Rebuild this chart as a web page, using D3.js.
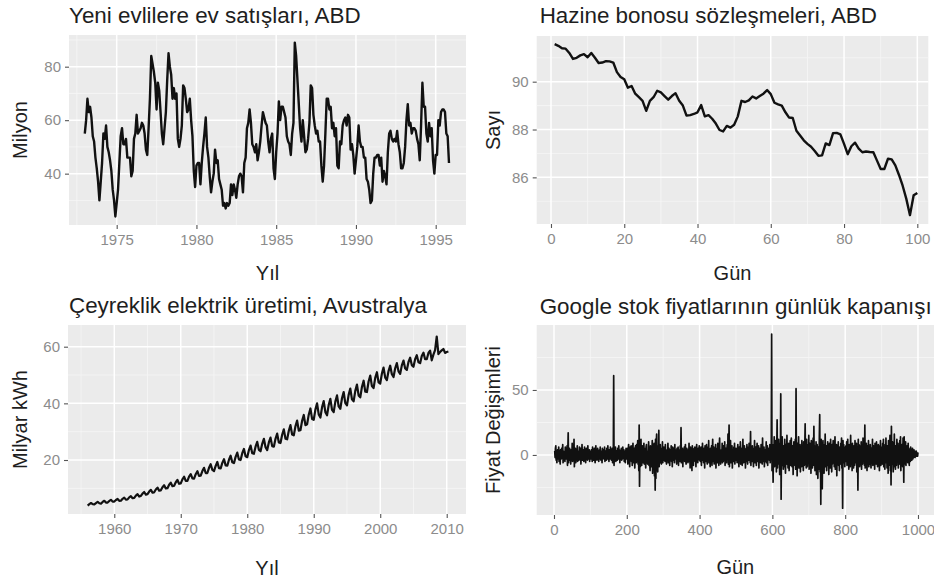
<!DOCTYPE html>
<html>
<head>
<meta charset="utf-8">
<script src="https://cdn.jsdelivr.net/npm/d3@7"></script>
<style>
  html, body { margin: 0; padding: 0; background: #ffffff; }
  svg { display: block; font-family: "Liberation Sans", Arial, Helvetica, sans-serif; }
</style>
</head>
<body>
<svg id="chart" width="934" height="583"></svg>
<script>
// ---------------- DATA ----------------
// Panel 1: monthly new house sales, USA (Jan 1973 - Nov 1995)
const hsalesStartYear = 1973;
const hsalesValues = [
  55,60,68,63,65,61,54,52,46,42,37,30,
  37,44,55,53,58,50,48,45,41,34,30,24,
  29,34,44,54,57,51,51,53,46,46,46,39,
  41,53,55,62,55,56,57,59,58,55,49,47,
  57,68,84,81,78,74,64,74,71,63,55,51,
  57,63,75,85,80,77,68,72,68,70,53,50,
  53,58,73,72,68,63,64,68,60,54,41,35,
  43,44,44,36,44,50,55,61,50,46,39,33,
  37,40,49,44,45,38,36,34,28,29,27,29,
  28,29,36,32,36,34,31,36,39,40,39,33,
  44,46,57,59,64,59,51,50,48,51,45,48,
  52,58,63,61,59,58,52,48,53,55,42,38,
  48,55,67,60,65,65,63,61,54,52,51,47,
  55,59,89,84,75,66,57,52,60,54,48,49,
  53,59,73,72,62,58,55,56,52,52,43,37,
  43,55,68,68,64,65,57,59,54,57,43,42,
  52,51,58,60,61,58,62,61,49,51,47,40,
  45,50,58,52,50,50,46,46,38,37,34,29,
  30,40,46,46,47,47,43,46,37,41,39,36,
  48,55,56,53,52,53,52,56,51,48,42,42,
  44,50,60,66,58,59,55,57,57,56,53,51,
  45,58,74,65,65,55,52,59,54,57,45,40,
  47,47,60,58,63,64,64,63,55,54,44
];

// Panel 2: US treasury bill contracts, 100 days
const ustreasValues = [
  91.57,91.50,91.40,91.38,91.20,90.95,91.00,91.10,91.15,91.02,
  91.20,91.00,90.78,90.80,90.86,90.85,90.80,90.40,90.20,90.10,
  89.75,89.82,89.50,89.35,89.20,88.78,89.20,89.35,89.62,89.55,
  89.40,89.25,89.40,89.52,89.20,89.00,88.58,88.60,88.65,88.72,
  89.02,88.55,88.60,88.45,88.25,87.98,87.92,88.15,88.08,88.20,
  88.55,89.20,89.15,89.22,89.38,89.30,89.40,89.50,89.65,89.48,
  89.12,89.05,89.00,88.72,88.50,88.48,87.95,87.75,87.55,87.40,
  87.28,87.10,86.90,86.92,87.42,87.35,87.85,87.86,87.80,87.40,
  86.97,87.30,87.45,87.20,87.05,87.08,87.06,87.05,86.70,86.35,
  86.35,86.78,86.75,86.50,86.10,85.65,85.10,84.42,85.25,85.35
];

// Panel 3: quarterly electricity production, Australia (1956 Q1 - 2010 Q2)
const elecStartYear = 1956;
const elecValues = [
  3.92,4.44,4.81,4.42,  4.34,4.81,5.26,4.74,  4.61,5.20,5.61,4.98,  4.99,5.55,5.95,5.31,
  5.33,5.88,6.25,5.59,  5.65,6.28,6.71,6.02,  6.10,6.80,7.25,6.52,  6.65,7.45,7.95,7.10,
  7.30,8.15,8.70,7.80,  7.95,8.85,9.45,8.50,  8.60,9.60,10.25,9.20, 9.30,10.40,11.10,9.95,
  10.05,11.25,12.00,10.75, 10.90,12.15,12.95,11.60, 11.75,13.15,14.10,12.60, 12.60,14.10,15.00,13.50,
  13.40,15.00,16.05,14.35, 14.45,16.10,17.25,15.40, 15.40,17.25,18.50,16.50, 16.10,17.90,19.30,17.10,
  17.00,19.00,20.30,18.10, 18.00,20.10,21.50,19.20, 18.90,21.10,22.60,20.20, 20.00,22.40,23.90,21.30,
  21.00,23.50,25.10,22.40, 22.20,24.70,26.40,23.60, 23.10,25.70,27.50,24.50, 23.50,26.20,27.90,24.90,
  24.70,27.50,29.30,26.20, 26.00,28.90,30.80,27.50, 27.30,30.30,32.30,29.00, 28.70,31.90,33.90,30.40,
  30.50,33.80,35.90,32.30, 32.60,36.00,38.20,34.50, 34.20,37.80,40.00,36.10, 35.00,38.60,40.80,36.90,
  35.80,39.40,41.60,37.70, 36.90,40.60,42.80,38.90, 38.10,41.80,44.00,40.10, 39.30,43.00,45.20,41.40,
  40.70,44.40,46.60,42.80, 42.10,45.80,48.00,44.10, 44.00,47.70,49.80,46.10, 45.40,49.00,51.00,47.40,
  47.00,50.50,52.60,49.10, 48.20,51.40,53.30,50.30, 49.30,52.40,54.20,51.30, 50.40,53.40,55.10,52.30,
  51.80,54.60,56.10,53.50, 52.90,55.60,57.00,54.50, 54.20,56.70,57.90,55.60, 55.60,57.80,58.60,55.20,
  57.20,58.80,63.60,57.40, 58.10,58.70,59.20,57.80, 58.10,58.30
];

// Panel 4: daily changes in Google closing stock price (days 2..1000)
const googStartDay = 2;
const googChanges = [
  3,-2,5,7,-4,1,-6,2,4,-3,0,6,-5,3,-1,-7,4,2,-3,5,-2,1,8,-6,3,-4,2,0,-5,6,1,-3,4,-2,7,-8,3,17,-6,2,-4,5,-1,3,-7,4,0,-3,9,-5,
  2,6,-4,12,-9,3,-2,5,-6,1,4,-3,7,-5,2,-1,3,-4,6,-2,0,5,-7,3,-3,8,-4,1,-2,4,-5,2,6,-3,0,-6,3,5,-2,1,-4,7,-3,2,-1,4,-5,3,0,-2,
  -3,4,2,-5,6,-1,3,-4,1,5,-2,-6,3,7,-3,2,-4,0,5,-2,3,-5,1,4,-3,6,-1,-4,2,3,-6,5,1,-2,4,-3,0,6,-5,2,3,-1,-4,5,2,-3,7,-2,1,-5,
  4,0,-3,6,-2,3,-4,1,5,-6,2,-1,61,-8,4,-3,2,6,-5,1,3,-2,-4,5,0,-3,7,-2,4,-6,1,3,-1,5,-4,2,-3,6,0,-2,4,-5,3,1,-6,2,5,-3,0,4,
  5,-7,3,8,-4,2,-9,6,-3,1,7,-5,4,-8,2,9,-6,3,-2,5,-10,4,7,-3,-6,8,2,-5,11,-7,3,-12,23,-24,6,-9,4,12,-5,-8,3,7,-6,2,-4,9,-7,5,-3,1,
  -10,6,8,-5,3,-7,2,-4,10,-8,4,-6,-12,7,-3,5,-9,2,11,-14,6,-8,3,9,-16,5,-27,12,-18,8,16,-10,4,-13,7,-5,19,-9,3,-6,8,-4,2,-7,5,-3,10,-6,1,-4,
  6,-3,2,-5,8,-1,4,-7,3,0,-4,9,-6,2,5,-3,-8,4,1,-2,7,-5,3,-9,6,2,-4,5,-1,-6,8,-3,4,-2,1,-7,5,3,-4,6,-8,2,0,4,-5,7,-3,21,-6,3,
  -2,5,-9,4,1,-3,6,-5,2,8,-4,-7,3,5,-2,1,-6,4,-3,9,-5,2,-10,6,3,-4,1,-12,7,-2,5,-8,4,-3,2,6,-5,0,-9,3,8,-4,2,-6,5,-1,-3,7,-4,2,
  -5,3,6,-8,2,-3,9,-4,1,-6,5,3,-10,7,-2,4,-5,8,-3,-7,2,6,-4,11,-6,3,-1,-9,5,2,-4,7,-8,3,12,-5,-2,6,-7,4,1,-3,8,-10,5,-2,3,-6,9,-4,
  2,-8,6,13,-5,3,-7,1,4,-3,9,-6,2,-5,7,-1,-4,10,-8,3,5,-2,-6,4,8,-3,16,-7,2,23,-9,5,-4,11,-6,3,-2,7,-10,4,1,-5,6,-3,9,-7,2,-4,5,-1,
  4,-6,3,8,-5,2,-9,6,1,-3,10,-7,4,-2,5,-8,3,12,-4,-6,2,7,-3,5,-10,4,1,-5,8,-2,-7,3,6,-4,9,-3,2,-6,18,-8,4,1,-5,7,-2,3,-9,5,-4,11,
  -6,2,6,-3,-8,4,9,-5,1,-2,7,-10,3,5,-4,2,-6,8,-3,4,-7,13,-5,2,-1,6,-9,3,4,-2,-5,10,-6,3,7,-8,2,-3,5,1,-4,8,-6,3,-2,9,93,-12,6,-4,
  -21,8,-5,14,-9,3,11,-6,7,-13,5,27,-10,4,-7,12,-3,6,-15,9,-4,47,-34,10,-6,14,-8,3,-11,7,5,-9,12,-4,-14,8,2,-7,15,-5,3,-10,6,9,-12,4,-3,11,-8,5,
  13,-6,-9,4,7,-15,2,10,-5,3,-8,12,-11,51,-7,6,-16,9,3,-6,14,-10,5,-4,8,-13,6,2,-9,11,-5,7,-3,-12,10,4,-8,6,24,-7,3,-10,12,-4,-9,5,8,-6,15,-11,
  3,9,-7,5,-14,11,-4,6,-10,2,13,-8,22,-6,4,-12,7,-3,10,-15,5,8,-9,-18,6,3,-11,14,31,-13,5,-38,12,-7,9,-26,4,11,-6,3,-14,8,-5,16,-9,2,7,-12,5,-4,
  10,-8,3,-15,6,9,-3,-10,12,-5,4,-13,8,-7,2,11,-6,5,-9,3,14,-11,6,-4,8,-16,3,7,-5,10,-8,2,-12,6,4,-7,9,-3,13,-10,5,-41,11,-6,8,-4,3,-9,6,-2,
  7,-5,10,-8,3,12,-6,4,-11,8,-3,5,-9,15,-7,2,6,-12,9,-4,3,-10,7,5,-8,11,-6,2,-4,9,-13,6,3,-27,12,-5,8,-3,-9,4,7,-6,10,-11,5,2,-7,13,-4,6,
  3,-8,23,-10,5,-6,9,-3,-12,7,4,-5,11,-9,2,6,-7,8,-4,-10,5,3,-6,12,-8,2,7,-5,4,-11,9,-3,6,-7,10,-4,2,-9,5,8,-6,3,-12,7,-2,11,-8,4,-5,6,
  -7,9,-4,12,-9,5,3,-11,8,-6,13,-5,2,-10,7,4,-14,11,-3,6,-8,15,-12,9,-23,22,-7,4,10,-6,-13,8,-4,16,-9,3,-11,7,5,-8,12,-5,-3,9,-10,6,2,-7,11,-4,
  14,-12,5,-6,8,-3,-9,13,4,-21,14,-7,6,-5,10,-8,3,-4,7,2,-6,9,-3,5,-8,4,1,-5,6,-2,3,-4,2,5,-3,1,-2,4,-1,3,-2,2,0,3,-1,2,1,-1,2
];

// Tick labels
const hsalesXTicks = [1975, 1980, 1985, 1990, 1995];
const hsalesYTicks = [40, 60, 80];
const ustreasXTicks = [0, 20, 40, 60, 80, 100];
const ustreasYTicks = [86, 88, 90];
const elecXTicks = [1960, 1970, 1980, 1990, 2000, 2010];
const elecYTicks = [20, 40, 60];
const googXTicks = [0, 200, 400, 600, 800, 1000];
const googYTicks = [0, 50];

// Texts
const titles = [
  "Yeni evlilere ev satışları, ABD",
  "Hazine bonosu sözleşmeleri, ABD",
  "Çeyreklik elektrik üretimi, Avustralya",
  "Google stok fiyatlarının günlük kapanışı"
];
const xTitles = ["Yıl", "Gün", "Yıl", "Gün"];
const yTitles = ["Milyon", "Sayı", "Milyar kWh", "Fiyat Değişimleri"];

// ---------------- DRAWING ----------------
const svg = d3.select("#chart");

function minorTicks(major, domain) {
  const step = major[1] - major[0];
  const out = [];
  for (let v = major[0] - step / 2; v <= domain[1]; v += step) {
    if (v >= domain[0]) out.push(v);
  }
  return out;
}

function drawPanel(cfg) {
  const g = svg.append("g");
  const x = d3.scaleLinear().domain(cfg.xDomain).range([cfg.left, cfg.right]);
  const y = d3.scaleLinear().domain(cfg.yDomain).range([cfg.bottom, cfg.top]);

  // panel background
  g.append("rect")
    .attr("x", cfg.left).attr("y", cfg.top)
    .attr("width", cfg.right - cfg.left).attr("height", cfg.bottom - cfg.top)
    .attr("fill", "#ebebeb");

  const grid = g.append("g");
  // minor grid
  minorTicks(cfg.xTicks, cfg.xDomain).forEach(v => {
    grid.append("line").attr("x1", x(v)).attr("x2", x(v)).attr("y1", cfg.top).attr("y2", cfg.bottom)
      .attr("stroke", "#f6f6f6").attr("stroke-width", 0.8);
  });
  minorTicks(cfg.yTicks, cfg.yDomain).forEach(v => {
    grid.append("line").attr("y1", y(v)).attr("y2", y(v)).attr("x1", cfg.left).attr("x2", cfg.right)
      .attr("stroke", "#f6f6f6").attr("stroke-width", 0.8);
  });
  // major grid
  cfg.xTicks.forEach(v => {
    grid.append("line").attr("x1", x(v)).attr("x2", x(v)).attr("y1", cfg.top).attr("y2", cfg.bottom)
      .attr("stroke", "#ffffff").attr("stroke-width", 1.5);
  });
  cfg.yTicks.forEach(v => {
    grid.append("line").attr("y1", y(v)).attr("y2", y(v)).attr("x1", cfg.left).attr("x2", cfg.right)
      .attr("stroke", "#ffffff").attr("stroke-width", 1.5);
  });

  // series line
  const line = d3.line().x(d => x(d[0])).y(d => y(d[1]));
  g.append("path").datum(cfg.data)
    .attr("d", line)
    .attr("fill", "none")
    .attr("stroke", "#111111")
    .attr("stroke-width", cfg.lineWidth)
    .attr("stroke-linejoin", "round");

  // axes
  const xAxis = d3.axisBottom(x).tickValues(cfg.xTicks).tickSize(4).tickPadding(5).tickFormat(d3.format("d"));
  const yAxis = d3.axisLeft(y).tickValues(cfg.yTicks).tickSize(4).tickPadding(4).tickFormat(d3.format("d"));
  const gx = g.append("g").attr("transform", `translate(0,${cfg.bottom})`).call(xAxis);
  const gy = g.append("g").attr("transform", `translate(${cfg.left},0)`).call(yAxis);
  [gx, gy].forEach(a => {
    a.select(".domain").remove();
    a.selectAll(".tick line").attr("stroke", "#555555").attr("stroke-width", 1.1);
    a.selectAll(".tick text").attr("fill", "#8c8c8c").style("font-size", "15px")
      .style("font-family", "'Liberation Sans', Arial, sans-serif");
  });

  // title
  g.append("text").attr("x", cfg.left + cfg.titleDx).attr("y", cfg.titleY)
    .attr("fill", "#1e1e1e").style("font-size", "22.4px").text(cfg.title);
  // x axis title
  g.append("text").attr("x", (cfg.left + cfg.right) / 2 + cfg.xTitleDx).attr("y", cfg.xTitleY)
    .attr("text-anchor", "middle").attr("fill", "#1e1e1e").style("font-size", "20px").text(cfg.xTitle);
  // y axis title
  const cy = (cfg.top + cfg.bottom) / 2;
  g.append("text").attr("transform", `translate(${cfg.yTitleX},${cy}) rotate(-90)`)
    .attr("text-anchor", "middle").attr("fill", "#1e1e1e").style("font-size", "20px").text(cfg.yTitle);
}

// Panel 1
drawPanel({
  left: 69, right: 466, top: 35, bottom: 225,
  xDomain: [1972.01, 1996.9], yDomain: [20.8, 91.85],
  xTicks: hsalesXTicks, yTicks: hsalesYTicks,
  data: hsalesValues.map((v, i) => [hsalesStartYear + i / 12, v]),
  lineWidth: 2.4,
  title: titles[0], titleDx: 0, titleY: 23,
  xTitle: xTitles[0], xTitleDx: 0, xTitleY: 280,
  yTitle: yTitles[0], yTitleX: 27
});

// Panel 2
drawPanel({
  left: 536.7, right: 928.3, top: 36, bottom: 224,
  xDomain: [-3.9, 103.0], yDomain: [84.05, 91.91],
  xTicks: ustreasXTicks, yTicks: ustreasYTicks,
  data: ustreasValues.map((v, i) => [i + 1, v]),
  lineWidth: 2.4,
  title: titles[1], titleDx: 3, titleY: 23,
  xTitle: xTitles[1], xTitleDx: 0, xTitleY: 280,
  yTitle: yTitles[1], yTitleX: 500
});

// Panel 3
drawPanel({
  left: 68, right: 466, top: 325, bottom: 514,
  xDomain: [1953.04, 2012.9], yDomain: [0.94, 67.66],
  xTicks: elecXTicks, yTicks: elecYTicks,
  data: elecValues.map((v, i) => [elecStartYear + i / 4, v]),
  lineWidth: 2.2,
  title: titles[2], titleDx: 1, titleY: 313,
  xTitle: xTitles[2], xTitleDx: 0, xTitleY: 575,
  yTitle: yTitles[2], yTitleX: 27
});

// Panel 4
drawPanel({
  left: 536.7, right: 934, top: 325, bottom: 515,
  xDomain: [-47.5, 1044], yDomain: [-46.2, 100],
  xTicks: googXTicks, yTicks: googYTicks,
  data: googChanges.map((v, i) => [googStartDay + i, v]),
  lineWidth: 1.7,
  title: titles[3], titleDx: 3, titleY: 314,
  xTitle: xTitles[3], xTitleDx: 0, xTitleY: 574,
  yTitle: yTitles[3], yTitleX: 500
});
</script>
</body>
</html>
